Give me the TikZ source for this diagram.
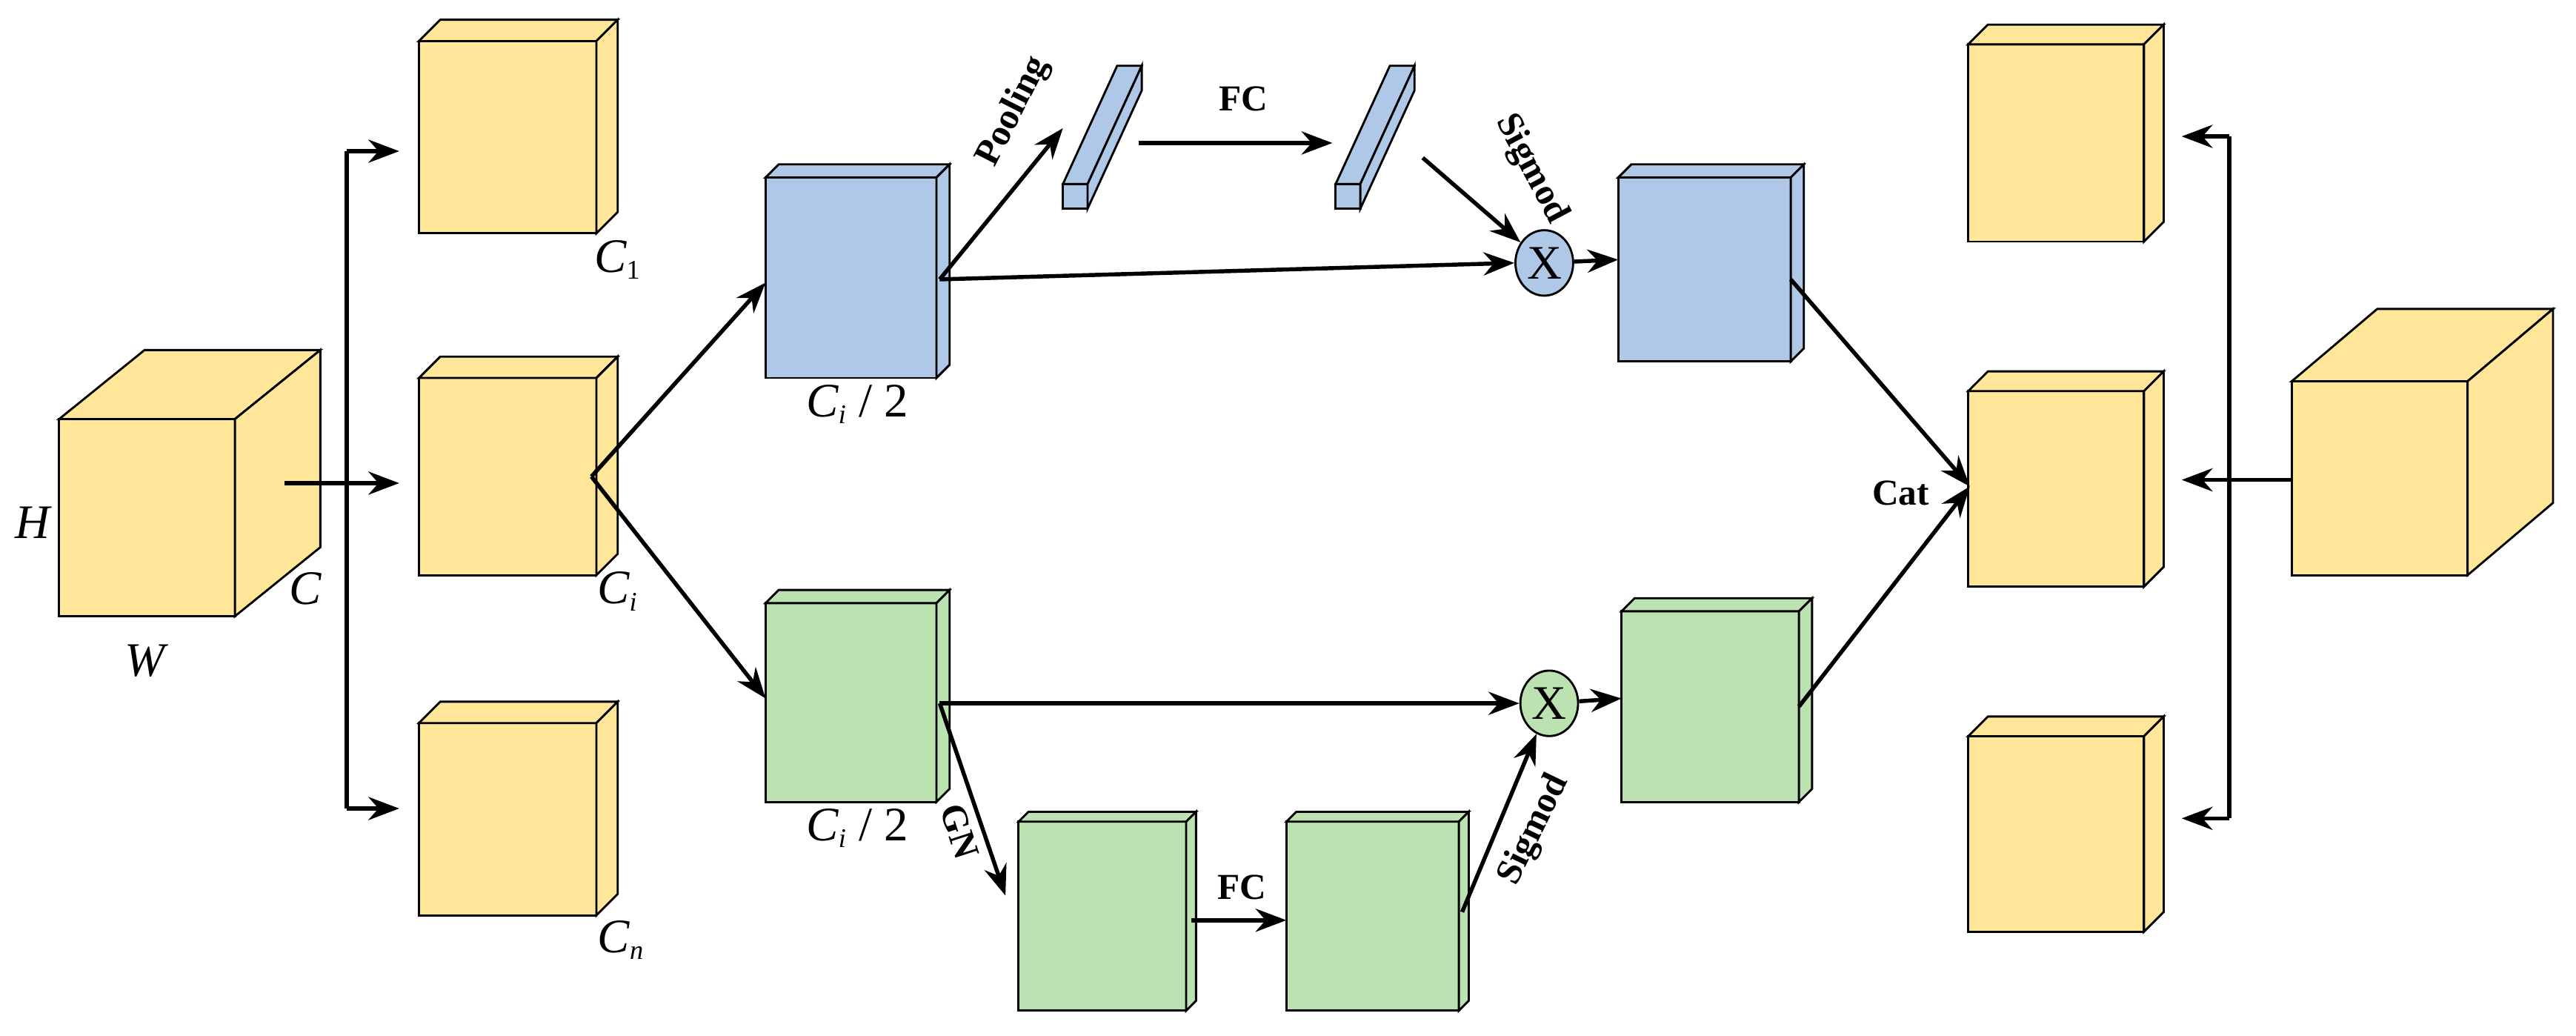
\documentclass[tikz,border=0pt]{standalone}
\usepackage{fontspec}
\setmainfont{Liberation Serif}
\usetikzlibrary{arrows.meta,shapes.geometric}
\definecolor{yel}{HTML}{FFE699}
\definecolor{blu}{HTML}{B0C8E8}
\definecolor{grn}{HTML}{BCE2B2}
\newcommand\mybox[6]{%
 \filldraw[fill=#6,line width=1.1pt,line join=miter] (#1,#2) rectangle (#3,#4);
 \filldraw[fill=#6,line width=1.1pt] (#1,#2)--({#1+#5},{#2-#5})--({#3+#5},{#2-#5})--(#3,#2)--cycle;
 \filldraw[fill=#6,line width=1.1pt] (#3,#2)--({#3+#5},{#2-#5})--({#3+#5},{#4-#5})--(#3,#4)--cycle;}
\newcommand\mycube[7]{%
 \filldraw[fill=#7,line width=1.1pt] (#1,#2) rectangle (#3,#4);
 \filldraw[fill=#7,line width=1.1pt] (#1,#2)--({#1+#5},{#2-#6})--({#3+#5},{#2-#6})--(#3,#2)--cycle;
 \filldraw[fill=#7,line width=1.1pt] (#3,#2)--({#3+#5},{#2-#6})--({#3+#5},{#4-#6})--(#3,#4)--cycle;}
\tikzset{
 arr/.style={line width=2.1pt,-{Stealth[length=16pt,width=12pt]}},
 ln/.style={line width=2.1pt},
 lab/.style={font=\fontsize{19}{22}\selectfont\bfseries,inner sep=0pt},
 var/.style={font=\fontsize{25}{28}\selectfont\itshape,inner sep=0pt},
 mul/.style={draw,line width=1.1pt,ellipse,minimum width=30pt,minimum height=34pt,inner sep=0pt,font=\fontsize{25}{28}\selectfont}
}
\begin{document}
\begin{tikzpicture}[x=0.03cm,y=-0.03cm]
\path[use as bounding box] (0,0) rectangle (1568,630);
% left big cube
\mycube{36}{255}{143}{375}{52}{42}{yel}
\node[var] (H) at (20,318) {H};
\node[var] (W) at (88,402) {W};
\node[var] (C) at (186,358) {C};
% small yellow boxes
\mybox{255}{25}{363}{142}{13}{yel}
\mybox{255}{230}{363}{350}{13}{yel}
\mybox{255}{440}{363}{557}{13}{yel}
\node[var] (c1) at (376,158) {C\textsubscript{\fontsize{14}{16}\selectfont\upshape 1}};
\node[var] (ci) at (376,360) {C\textsubscript{\fontsize{14}{16}\selectfont i}};
\node[var] (cn) at (378,572) {C\textsubscript{\fontsize{14}{16}\selectfont n}};
\coordinate (cubeout) at (173,294);
\coordinate (ytop) at (243,92);
\coordinate (ymid) at (243,294);
\coordinate (ybot) at (243,492);
\coordinate (split1) at (211,92);
\coordinate (split2) at (211,492);
\draw[arr] (cubeout) -- (ymid);
\draw[ln] (split1) -- (split2);
\draw[arr] (split1) -- (ytop);
\draw[arr] (split2) -- (ybot);
% blue and green split boxes
\mybox{466}{108}{570}{230}{8}{blu}
\mybox{466}{367}{570}{488}{8}{grn}
\node[var] (cb) at (522,246) {C\textsubscript{\fontsize{14}{16}\selectfont i}\upshape\ / 2};
\node[var] (cg) at (522,504) {C\textsubscript{\fontsize{14}{16}\selectfont i}\upshape\ / 2};
\coordinate (mid) at (360,290);
\coordinate (bin) at (466,172);
\coordinate (gin) at (466,425);
\draw[arr] (mid) -- (bin);
\draw[arr] (mid) -- (gin);
% blue bars
\foreach \x in {647,813}{
 \filldraw[fill=blu,line width=1.1pt] (\x,112) rectangle (\x+15,127);
 \filldraw[fill=blu,line width=1.1pt] (\x,112)--(\x+33,40)--(\x+48,40)--(\x+15,112)--cycle;
 \filldraw[fill=blu,line width=1.1pt] (\x+15,112)--(\x+48,40)--(\x+48,55)--(\x+15,127)--cycle;
}
\coordinate (bout) at (572,170);
\coordinate (bar1) at (647,78);
\coordinate (bar1o) at (693,87);
\coordinate (bar2) at (811,87);
\coordinate (bar2o) at (866,96);
\draw[arr] (bout) -- (bar1);
\node[lab,rotate=63] (pool) at (617,68) {Pooling};
\draw[arr] (bar1o) -- (bar2);
\node[lab] (fc1) at (757,60) {FC};
\node[mul,fill=blu] (xb) at (940,160) {X};
\draw[arr] (bar2o) -- (xb);
\node[lab,rotate=-62] (sig1) at (932,103) {Sigmod};
\draw[arr] (bout) -- (xb.west);
\mybox{985}{108}{1090}{220}{8}{blu}
\coordinate (b2in) at (985,158);
\draw[arr] (xb) -- (b2in);
% green lower path
\coordinate (gout) at (572,428);
\node[mul,fill=grn] (xg) at (943,428) {X};
\draw[arr] (gout) -- (xg.west);
\mybox{620}{500}{722}{615}{6}{grn}
\mybox{783}{500}{888}{615}{6}{grn}
\coordinate (g3in) at (612,545);
\draw[arr] (gout) -- (g3in);
\node[lab,rotate=-72] (gn) at (584,506) {GN};
\coordinate (g3o) at (725,560);
\coordinate (g4i) at (783,560);
\draw[arr] (g3o) -- (g4i);
\node[lab] (fc2) at (756,540) {FC};
\coordinate (g4o) at (890,555);
\draw[arr] (g4o) -- (xg);
\node[lab,rotate=64] (sig2) at (934,505) {Sigmod};
\mybox{987}{372}{1095}{488}{8}{grn}
\coordinate (g5in) at (987,425);
\draw[arr] (xg) -- (g5in);
% cat
\mybox{1198}{27}{1305}{147}{12}{yel}
\mybox{1198}{238}{1305}{357}{12}{yel}
\mybox{1198}{448}{1305}{567}{12}{yel}
\coordinate (b2o) at (1090,170);
\coordinate (g5o) at (1095,430);
\coordinate (catin) at (1199,296);
\draw[arr] (b2o) -- (catin);
\draw[arr] (g5o) -- (catin);
\node[lab] (cat) at (1157,300) {Cat};
% right cube
\mycube{1395}{232}{1502}{350}{52}{44}{yel}
\coordinate (rin) at (1395,292);
\coordinate (rmid) at (1328,292);
\coordinate (rs1) at (1357,83);
\coordinate (rs2) at (1357,498);
\coordinate (rtop) at (1328,83);
\coordinate (rbot) at (1328,498);
\draw[arr] (rin) -- (rmid);
\draw[ln] (rs1) -- (rs2);
\draw[arr] (rs1) -- (rtop);
\draw[arr] (rs2) -- (rbot);
\end{tikzpicture}
\end{document}
